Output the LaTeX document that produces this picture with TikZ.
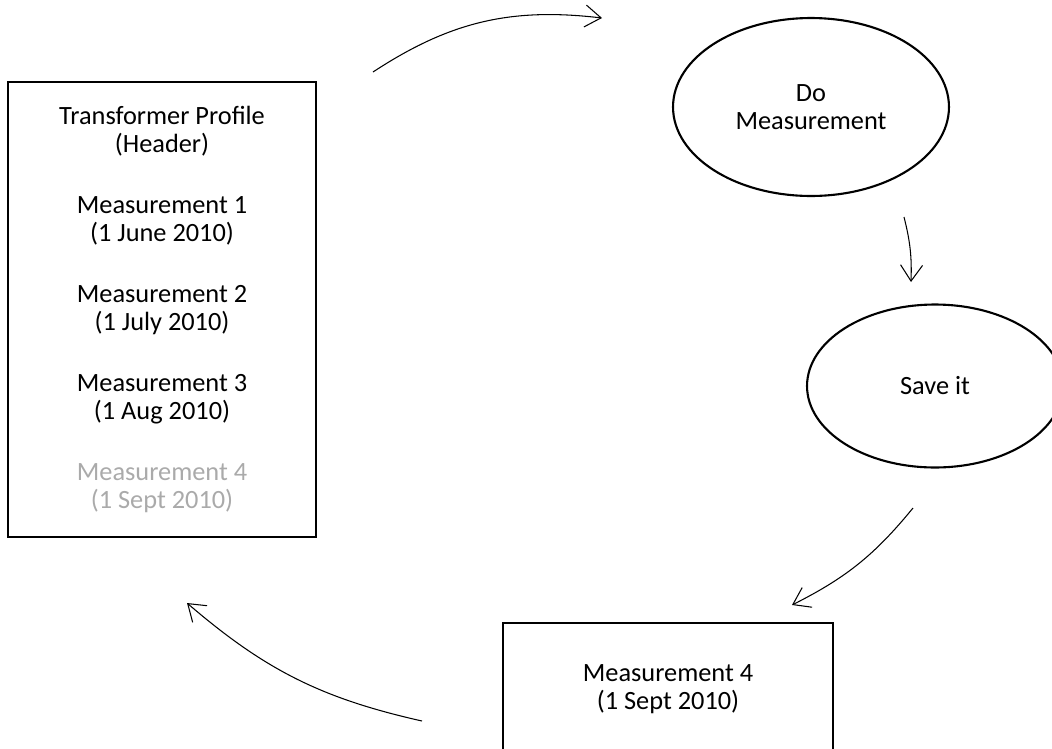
\documentclass[tikz,border=0pt]{standalone}
\usepackage{fontspec}
\setmainfont{Carlito}
\usepackage{tikz}
\usetikzlibrary{arrows.meta}
\usetikzlibrary{shapes.geometric}
\definecolor{fadedtext}{RGB}{170,170,170}

\begin{document}
\begin{tikzpicture}[x=0.02cm,y=-0.02cm]
    \tikzstyle{every node}=[font=\fontsize{15}{15.65}\selectfont,align=center]
    \tikzstyle{record box}=[rectangle,draw,line width=1.3pt,inner sep=0]
    \tikzstyle{step oval}=[ellipse,draw,line width=1.2pt,inner sep=0]
    \tikzstyle{flow}=[line width=0.6pt,-{Straight Barb[length=3.2mm,width=4.4mm]}]
    \useasboundingbox (0,0) rectangle (1052,748);
    \clip (0,0) rectangle (1052,748);
    % stored file
    \node(profile)[record box,minimum width=6.16cm,minimum height=9.1cm] at (162,309.5)
        {Transformer Profile\\(Header)\\[19.4pt]
         Measurement 1\\(1 June 2010)\\[19.4pt]
         Measurement 2\\(1 July 2010)\\[19.4pt]
         Measurement 3\\(1 Aug 2010)\\[19.4pt]
         \textcolor{fadedtext}{Measurement 4}\\\textcolor{fadedtext}{(1 Sept 2010)}};
    % steps
    \node(measure)[step oval,minimum width=5.52cm,minimum height=3.56cm] at (811,107)
        {Do\\Measurement};
    \node(save)[step oval,minimum width=5.12cm,minimum height=3.26cm] at (935,386)
        {Save it};
    \node(record)[record box,minimum width=6.6cm,minimum height=2.64cm] at (668,689)
        {Measurement 4\\(1 Sept 2010)};
    % connectors
    \coordinate(a1) at (373,72);
    \coordinate(a2) at (602,18);
    \coordinate(b1) at (904,217);
    \coordinate(b2) at (911,282);
    \coordinate(c1) at (913,508);
    \coordinate(c2) at (792,605);
    \coordinate(d1) at (422,721);
    \coordinate(d2) at (187,603);
    \draw[flow](a1) to[bend left=20] (a2);
    \draw[flow](b1) to[bend left=8] (b2);
    \draw[flow](c1) to[bend left=12] (c2);
    \draw[flow](d1) to[bend left=14] (d2);
\end{tikzpicture}
\end{document}
